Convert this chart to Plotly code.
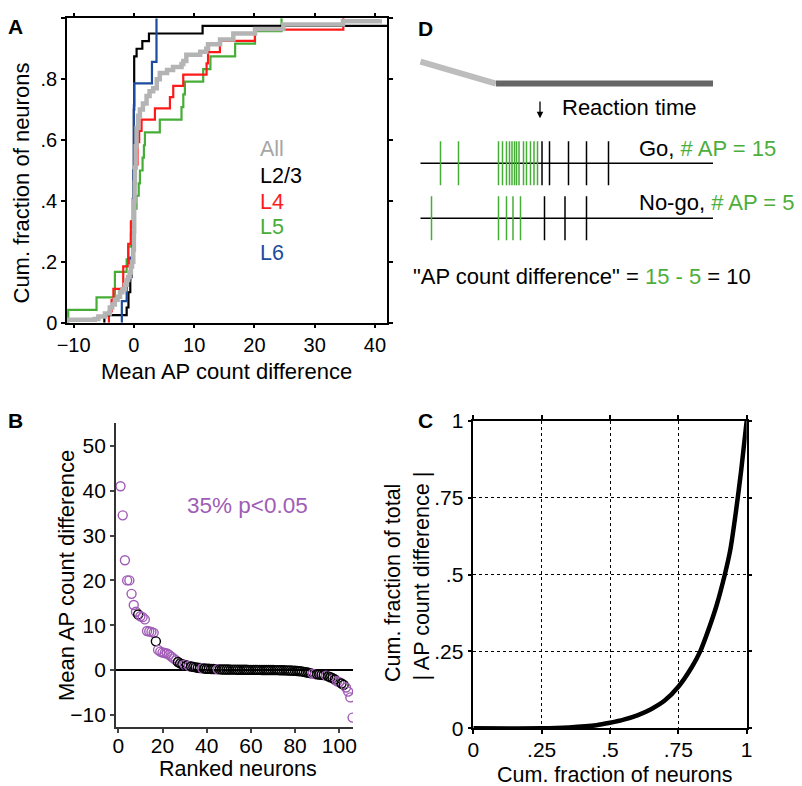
import plotly.graph_objects as go

# page is 802x786; the html body has an 8px margin, so the figure is 8px smaller
W, H = 802, 786
OFF = 8
FW, FH = W - OFF, H - OFF
FONT = "Liberation Sans, Arial, sans-serif"

# ---------------- Panel A data: cumulative step curves ----------------
l23_x = [-4.9, -4.9, -1.2, -0.9, -0.6, -0.4, -0.2, -0.1, 0.0, 0.05, 0.45, 1.4, 2.5, 11.4, 42.0]
l23_y = [0.0, 0.025, 0.05, 0.1, 0.15, 0.2, 0.3, 0.5, 0.7, 0.875, 0.9, 0.925, 0.95, 0.975, 0.975]

l4_x = [-4.15, -4.15, -3.7, -3.4, -1.77, -0.94, -0.5, -0.2, 0.1, 0.3, 0.6, 0.88, 1.27, 3.49,
        5.98, 6.53, 8.19, 12.06, 12.3, 14.27, 20.08, 34.75]
l4_y = [0.0, 0.037, 0.074, 0.111, 0.185, 0.259, 0.333, 0.407, 0.481, 0.519, 0.593, 0.63, 0.667,
        0.704, 0.741, 0.778, 0.815, 0.852, 0.889, 0.926, 0.963, 1.0]

l5_x = [-10.9, -10.9, -6.2, -3.15, -1.2, -0.94, -0.5, -0.2, 0.1, 0.44, 0.8, 1.0, 1.44, 1.66,
        1.83, 4.3, 7.9, 8.2, 8.46, 11.5, 12.7, 16.8, 20.1, 24.5]
l5_y = [0.0, 0.042, 0.083, 0.167, 0.208, 0.25, 0.292, 0.333, 0.375, 0.417, 0.458, 0.5, 0.542,
        0.583, 0.625, 0.667, 0.708, 0.75, 0.792, 0.833, 0.875, 0.917, 0.958, 1.0]

l6_x = [-2.0, -2.0, -1.2, -0.6, -0.3, -0.1, 0.0, 0.05, 3.0, 3.75]
l6_y = [0.0, 0.071, 0.143, 0.214, 0.286, 0.5, 0.714, 0.786, 0.857, 1.0]

all_x = [-11.1, -6.5, -5.9, -4.8, -4.0, -3.6, -3.15, -2.7, -2.3, -1.9, -1.5, -1.2, -0.94, -0.7,
         -0.5, -0.3, -0.1, 0.0, 0.05, 0.12, 0.17, 0.3, 0.44, 0.7, 1.0, 1.5, 2.1, 2.6, 3.2, 3.8,
         4.3, 5.5, 6.5, 7.9, 8.2, 8.7, 11.0, 12.0, 12.3, 14.3, 16.5, 20.1, 24.8, 34.7, 40.8]
all_y = [0.01, 0.012, 0.02, 0.03, 0.05, 0.06, 0.075, 0.085, 0.1, 0.11, 0.125, 0.14, 0.15, 0.165,
         0.185, 0.2, 0.24, 0.3, 0.4, 0.46, 0.51, 0.58, 0.64, 0.68, 0.7, 0.72, 0.745, 0.76, 0.77,
         0.8, 0.82, 0.83, 0.84, 0.85, 0.86, 0.88, 0.89, 0.9, 0.915, 0.93, 0.95, 0.965, 0.98, 0.99, 0.997]

a_xticks = [-10, 0, 10, 20, 30, 40]
a_yticks = [0, 0.2, 0.4, 0.6, 0.8, 1.0]
a_yticktext = ["0", ".2", ".4", ".6", ".8", "1"]
layer_names = ["All", "L2/3", "L4", "L5", "L6"]

# ---------------- Panel B data: ranked neurons ----------------
b_values = [
    41.0, 34.5, 24.5, 20.0, 20.0, 17.0, 14.5, 13.0, 12.4, 12.0,
    11.8, 11.3, 8.7, 8.6, 8.5, 8.3, 6.4, 4.5, 4.1, 3.9,
    3.8, 3.7, 3.4, 3.0, 2.6, 2.2, 1.8, 1.5, 1.3, 1.2,
    1.0, 0.9, 0.8, 0.7, 0.6, 0.5, 0.45, 0.4, 0.35, 0.3,
    0.28, 0.25, 0.22, 0.2, 0.18, 0.15, 0.14, 0.13, 0.12, 0.11,
    0.1, 0.1, 0.09, 0.08, 0.08, 0.07, 0.06, 0.06, 0.05, 0.05,
    0.04, 0.04, 0.03, 0.03, 0.02, 0.02, 0.01, 0.01, 0.0, 0.0,
    -0.01, -0.02, -0.03, -0.04, -0.05, -0.07, -0.09, -0.11, -0.14, -0.17,
    -0.2, -0.25, -0.3, -0.4, -0.5, -0.6, -0.7, -0.8, -0.9, -0.95,
    -1.0, -1.05, -1.1, -1.25, -1.4, -1.6, -1.8, -2.1, -2.5, -2.7,
    -3.0, -3.3, -3.9, -4.8, -6.1, -10.6]
b_sig_ranks = [1, 2, 3, 4, 5, 6, 7, 8, 10, 11, 12, 13, 14, 15, 16,
               18, 19, 20, 21, 22, 23, 24, 25, 26, 30, 32, 38, 45,
               88, 89, 94, 99, 100, 103, 104, 105, 106]
b_xticks = [0, 20, 40, 60, 80, 100]
b_yticks = [-10, 0, 10, 20, 30, 40, 50]

# ---------------- Panel C data ----------------
c_x = [0.0, 0.25, 0.35, 0.45, 0.5, 0.55, 0.6, 0.65, 0.7, 0.75, 0.8, 0.83, 0.86, 0.89, 0.92,
       0.94, 0.96, 0.98, 1.0]
c_y = [0.0, 0.0, 0.003, 0.01, 0.018, 0.028, 0.042, 0.062, 0.09, 0.135, 0.2, 0.25, 0.32, 0.4,
       0.5, 0.58, 0.7, 0.84, 1.0]
c_ticks = [0, 0.25, 0.5, 0.75, 1.0]
c_ticktext = ["0", ".25", ".5", ".75", "1"]

# ---------------- Panel D data: schematic spike trains (time re. reaction, a.u.) ----------------
go_green_t = [-199, -163, -83, -75, -67, -61, -56, -51, -47, -42, -33, -27, -19, -12, -5]
go_black_t = [4, 19, 57, 93, 137]
nogo_green_t = [-217, -83, -67, -54, -39]
nogo_black_t = [9, 50, 93]
trace_t = [-239, 346]
whisk_light_t = [-239, -88]
whisk_light_y = [2.85, 2.45]
whisk_dark_t = [-88, 346]
whisk_dark_y = [2.45, 2.45]
go_count, nogo_count = 15, 5

# ---------------- colours ----------------
C_GRAY = "#b4b4b4"
C_RED = "#ff1a1a"
C_GREEN = "#46ad37"
C_BLUE = "#1d4b9e"
C_PURPLE = "#a05cb6"
C_DGREEN = "#4dae3c"


def fx(p):
    return (p - OFF) / FW


def fy(p):
    return 1 - (p - OFF) / FH


fig = go.Figure()

# Panel A
for xs, ys, col, wd in [(l5_x, l5_y, C_GREEN, 2.2), (l4_x, l4_y, C_RED, 2.2),
                        (l23_x, l23_y, "black", 2.2), (l6_x, l6_y, C_BLUE, 2.2),
                        (all_x, all_y, C_GRAY, 4.5)]:
    fig.add_trace(go.Scatter(x=xs, y=ys, mode="lines", line=dict(color=col, width=wd, shape="hv"),
                             xaxis="x", yaxis="y", showlegend=False, hoverinfo="skip"))

# Panel B
ranks = list(range(1, len(b_values) + 1))
b_cols = [C_PURPLE if r in b_sig_ranks else "black" for r in ranks]
fig.add_trace(go.Scatter(x=ranks, y=b_values, mode="markers",
                         marker=dict(symbol="circle-open", size=9, color=b_cols, line=dict(width=1.4)),
                         xaxis="x2", yaxis="y2", showlegend=False, hoverinfo="skip"))

# Panel C
fig.add_trace(go.Scatter(x=c_x, y=c_y, mode="lines",
                         line=dict(color="black", width=4.5, shape="spline", smoothing=0.8),
                         xaxis="x3", yaxis="y3", showlegend=False, hoverinfo="skip"))

# Panel D
SPIKE_HALF = 0.4
GO_ROW, NOGO_ROW = 1.0, 0.0


def spikes(ts, row):
    xs, ys = [], []
    for t in ts:
        xs += [t, t, None]
        ys += [row - SPIKE_HALF, row + SPIKE_HALF, None]
    return xs, ys


fig.add_trace(go.Scatter(x=whisk_light_t, y=whisk_light_y, mode="lines",
                         line=dict(color="#bdbdbd", width=6), xaxis="x4", yaxis="y4",
                         showlegend=False, hoverinfo="skip"))
fig.add_trace(go.Scatter(x=whisk_dark_t, y=whisk_dark_y, mode="lines",
                         line=dict(color="#666666", width=6), xaxis="x4", yaxis="y4",
                         showlegend=False, hoverinfo="skip"))
for row in (GO_ROW, NOGO_ROW):
    fig.add_trace(go.Scatter(x=trace_t, y=[row, row], mode="lines",
                             line=dict(color="black", width=1.5), xaxis="x4", yaxis="y4",
                             showlegend=False, hoverinfo="skip"))
for ts, row, col in [(go_green_t, GO_ROW, C_GREEN), (go_black_t, GO_ROW, "black"),
                     (nogo_green_t, NOGO_ROW, C_GREEN), (nogo_black_t, NOGO_ROW, "black")]:
    sx, sy = spikes(ts, row)
    fig.add_trace(go.Scatter(x=sx, y=sy, mode="lines", line=dict(color=col, width=1.5),
                             xaxis="x4", yaxis="y4", showlegend=False, hoverinfo="skip"))

tickfont_a = dict(family=FONT, size=20, color="black")
tickfont_bc = dict(family=FONT, size=21, color="black")

box = dict(showline=True, linecolor="black", linewidth=1.5, mirror="allticks",
           ticks="outside", ticklen=4, tickwidth=1.5, tickcolor="black", showgrid=False,
           zeroline=False)

layout = dict(
    width=FW, height=FH, margin=dict(l=0, r=0, t=0, b=0),
    paper_bgcolor="white", plot_bgcolor="white", template="none",
    font=dict(family=FONT, size=20, color="black"),
    xaxis=dict(domain=[fx(67), fx(387)], range=[-11.1, 42], tickvals=a_xticks,
               tickfont=tickfont_a, anchor="y", **box),
    yaxis=dict(domain=[fy(322.7), fy(18.3)], range=[0, 1], tickvals=a_yticks,
               ticktext=a_yticktext, tickfont=tickfont_a, anchor="x", **box),
    xaxis2=dict(domain=[fx(116), fx(353)], range=[-1.04, 106.2], tickvals=b_xticks,
                tickfont=tickfont_bc, anchor="y2", showline=True, linecolor="#333333",
                linewidth=1.8, ticks="outside", ticklen=4, tickwidth=1.5, showgrid=False,
                zeroline=False, ticklabelstandoff=-5),
    yaxis2=dict(domain=[fy(727), fy(423)], range=[-12.7, 55.1], tickvals=b_yticks,
                tickfont=tickfont_bc, anchor="x2", showline=True, linecolor="#333333",
                linewidth=1.8, ticks="outside", ticklen=4, tickwidth=1.5, showgrid=False,
                zeroline=True, zerolinecolor="black", zerolinewidth=1.5),
    xaxis3=dict(domain=[fx(473.3), fx(746.7)], range=[0, 1], tickvals=c_ticks,
                ticktext=c_ticktext, tickfont=tickfont_bc, anchor="y3",
                **{**box, "showgrid": True}, gridcolor="black", gridwidth=1, griddash="3px,3px",
                ticklabelstandoff=-2),
    yaxis3=dict(domain=[fy(728.3), fy(420.7)], range=[0, 1], tickvals=c_ticks,
                ticktext=c_ticktext, tickfont=tickfont_bc, anchor="x3",
                **{**box, "showgrid": True}, gridcolor="black", gridwidth=1, griddash="3px,3px"),
    xaxis4=dict(domain=[fx(409), 1.0], range=[-262, 524], visible=False, anchor="y4"),
    yaxis4=dict(domain=[fy(314.4), 1.0], range=[-1.747, 3.824], visible=False, anchor="x4"),
)
fig.update_layout(**layout)

ann = []


def text(x, y, s, size=22, color="black", xanchor="center", angle=0, bold=False):
    ann.append(dict(x=fx(x), y=fy(y), xref="paper", yref="paper", text=("<b>%s</b>" % s) if bold else s,
                    showarrow=False, xanchor=xanchor, yanchor="middle", textangle=angle,
                    font=dict(family=FONT, size=size, color=color)))


# panel letters
text(15, 26, "A", 21, bold=True)
text(15.5, 420, "B", 21, bold=True)
text(425, 420, "C", 21, bold=True)
text(425, 28, "D", 21, bold=True)

# A titles and legend
text(21, 183.5, "Cum. fraction of neurons", 22, angle=-90)
text(226, 371, "Mean AP count difference", 22)
for name, yy, col in zip(layer_names, [149, 176, 201.5, 227, 253],
                         ["#a6a6a6", "black", C_RED, C_GREEN, C_BLUE]):
    text(258, yy, name, 21.5, color=col, xanchor="left")

# B titles
text(66, 576, "Mean AP count difference", 22, angle=-90)
text(237.5, 768.5, "Ranked neurons", 21.5)
pct = round(100 * len(b_sig_ranks) / len(b_values))
text(247.5, 505, "%d%% p&lt;0.05" % pct, 22.5, color=C_PURPLE)

# C titles
text(393, 583, "Cum. fraction of total", 21.5, angle=-90)
text(421.5, 576, "| AP count difference |", 21.5, angle=-90)
text(614, 775, "Cum. fraction of neurons", 21.5)

# D texts
text(560, 108, "Reaction time", 22, xanchor="left")
text(637, 149, 'Go, <span style="color:%s"># AP = %d</span>' % (C_DGREEN, go_count), 22, xanchor="left")
text(637, 202.5, 'No-go, <span style="color:%s"># AP = %d</span>' % (C_DGREEN, nogo_count), 22, xanchor="left")
text(411, 276, '"AP count difference" = <span style="color:%s">%d - %d</span> = %d'
     % (C_DGREEN, go_count, nogo_count, go_count - nogo_count), 22, xanchor="left")

# reaction time arrow
ann.append(dict(x=0, y=1.82, ax=0, ay=2.15, xref="x4", yref="y4", axref="x4", ayref="y4",
                text="", showarrow=True, arrowhead=2, arrowsize=1, arrowwidth=1.3,
                arrowcolor="black"))

fig.update_layout(annotations=ann)
fig.write_html("out.html")
